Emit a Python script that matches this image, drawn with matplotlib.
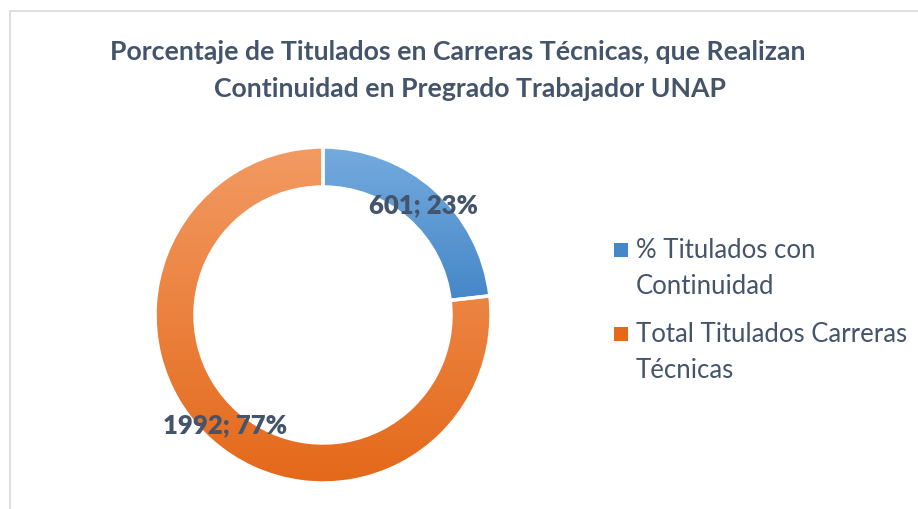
import numpy as np
import matplotlib
matplotlib.use("Agg")
import matplotlib.pyplot as plt
from matplotlib.colors import LinearSegmentedColormap
from matplotlib.patches import Rectangle

# data
labels = ["% Titulados con\nContinuidad", "Total Titulados Carreras\nTécnicas"]
values = [601, 1992]
percents = ["23%", "77%"]
top_colors = ["#74ABDE", "#F29A63"]
bottom_colors = ["#4687C8", "#E4691A"]

TEXT = "#44546A"
W, H = 918, 510
cx, cy, r_out = 323, H - 316, 168
ring = 40

plt.rcParams['font.family'] = ['Lato', 'DejaVu Sans']

fig = plt.figure(figsize=(W / 100, H / 100), dpi=100)
ax = fig.add_axes([0, 0, 1, 1])

# chart border (cropped at right and bottom)
ax.plot([10, 10, W + 5], [-5, H - 12, H - 12], color="#D9D9D9", lw=1.2)

wedges, _ = ax.pie(values, startangle=90, counterclock=False, radius=r_out,
                   center=(cx, cy), colors=top_colors,
                   wedgeprops=dict(width=ring, edgecolor="white", linewidth=2.5))

# vertical gradient in each wedge
for w, c0, c1 in zip(wedges, top_colors, bottom_colors):
    cmap = LinearSegmentedColormap.from_list("g", [c1, c0])
    bb = w.get_path().get_extents()
    grad = np.linspace(0, 1, 256).reshape(-1, 1)
    im = ax.imshow(grad, cmap=cmap, origin='lower', aspect='auto',
                   extent=[bb.x0, bb.x1, bb.y0, bb.y1], zorder=w.get_zorder())
    im.set_clip_path(w)
    w.set_facecolor("none")
    w.set_zorder(3)

ax.set_xlim(0, W)
ax.set_ylim(0, H)
ax.set_aspect('equal')
ax.axis('off')

# data labels
label_pos = [(423, H - 205), (225, H - 425)]
for (x, y), v, p in zip(label_pos, values, percents):
    ax.text(x, y, f"{v}; {p}", ha='center', va='center', fontsize=18.5,
            fontweight='heavy', color=TEXT, zorder=5)

# title
ax.text(458, H - 52, "Porcentaje de Titulados en Carreras Técnicas, que Realizan",
        ha='center', va='center', fontsize=19.2, fontweight='bold', color=TEXT)
ax.text(470, H - 89, "Continuidad en Pregrado Trabajador UNAP",
        ha='center', va='center', fontsize=19.2, fontweight='bold', color=TEXT)

# legend
leg_y = [H - 251, H - 335]
for y, lab, c0, c1 in zip(leg_y, labels, top_colors, bottom_colors):
    sq = Rectangle((614, y - 7), 14, 14, facecolor=c1, edgecolor='none')
    ax.add_patch(sq)
    ax.text(636, y + 13, lab, ha='left', va='top', fontsize=18.5,
            color=TEXT, linespacing=1.55)

fig.savefig("out.png", dpi=100)
